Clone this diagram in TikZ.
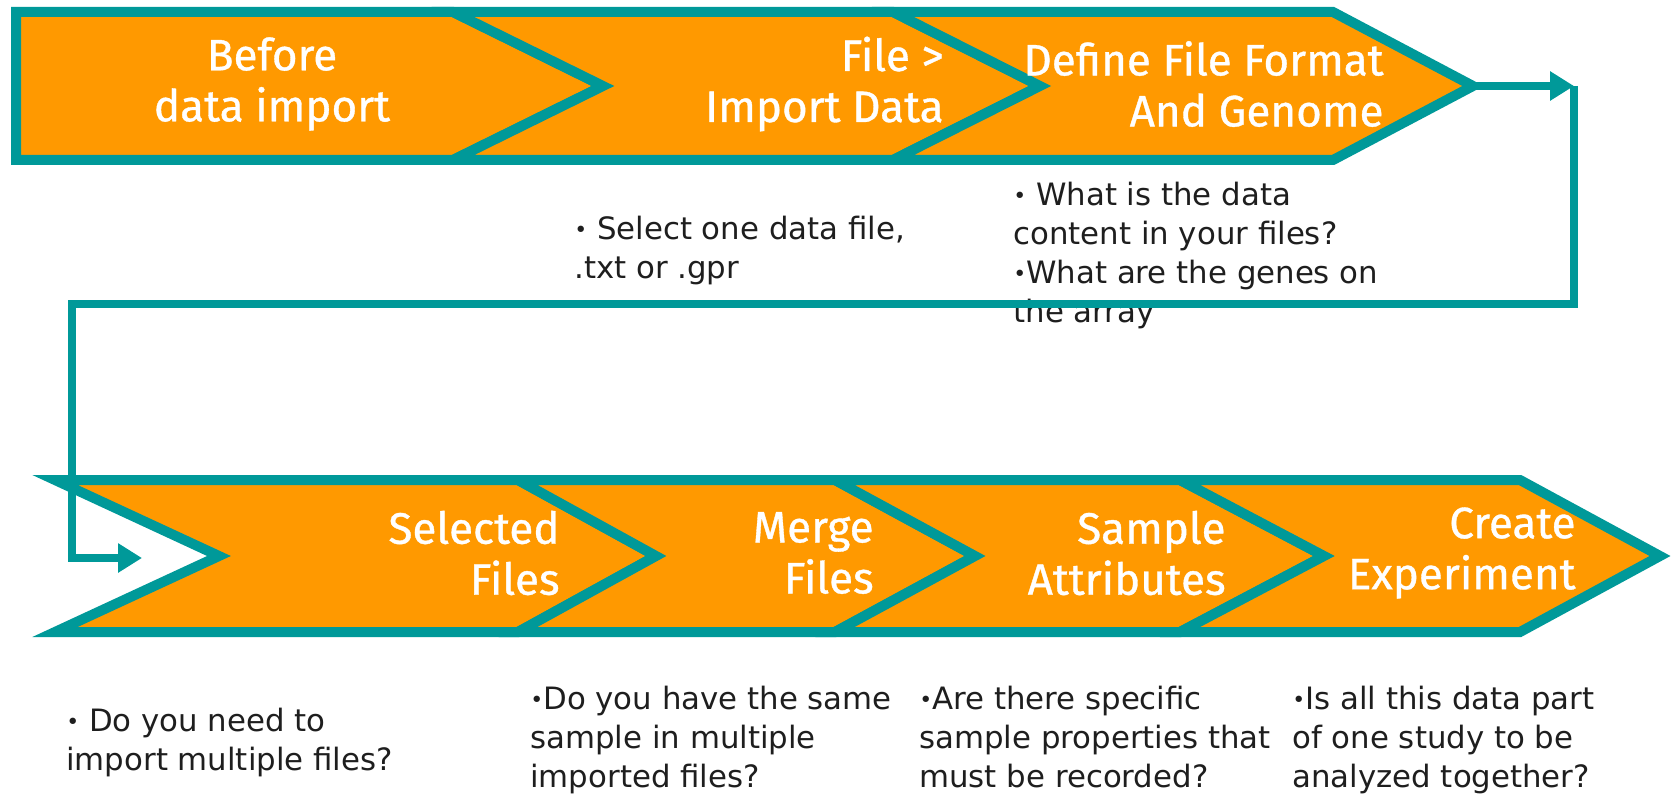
\documentclass[tikz,border=0pt]{standalone}
\usepackage{fontspec}
\setmainfont{Fira Sans}
\newfontfamily\stepfont{Fira Sans}[FakeBold=0.8]
\newfontfamily\notefont{DejaVu Sans}
\usetikzlibrary{positioning, arrows.meta}

\definecolor{chevorange}{HTML}{FF9900}
\definecolor{chevteal}{HTML}{009999}
\definecolor{notegray}{HTML}{1E1E1E}
\newcommand\notebullet{\raisebox{0.15ex}{\fontsize{11}{11}\selectfont\textbullet}}

\tikzset{
  chev/.style={fill=chevorange, draw=chevteal, line width=5pt},
  steptext/.style={text=white, font=\stepfont\fontsize{22}{25.5}\selectfont, align=right, inner sep=0pt, anchor=east},
  note/.style={text=notegray, font=\notefont\fontsize{15.4}{19.5}\selectfont, align=left, inner sep=0pt, anchor=north west},
  conn/.style={draw=chevteal, line width=4pt},
  flowarrow/.style={-{Triangle[length=12pt, width=14pt]}}
}

\begin{document}
\begin{tikzpicture}[x=0.5pt, y=-0.5pt]
\useasboundingbox (0,0) rectangle (1672,797);

% first row of steps
\draw[chev] (16,12) -- (453,12) -- (603,86) -- (453,160) -- (16,160) -- cycle;
\draw[chev] (453,12) -- (893,12) -- (1040,86) -- (893,160) -- (453,160) -- (603,86) -- cycle;
\draw[chev] (893,12) -- (1333,12) -- (1473,86) -- (1333,160) -- (893,160) -- (1040,86) -- cycle;
\coordinate (formattip) at (1473,86);

% second row of steps
\draw[chev] (55,480) -- (518,480) -- (656,556) -- (518,632) -- (55,632) -- (219,556) -- cycle;
\draw[chev] (518,480) -- (835,480) -- (975,556) -- (835,632) -- (518,632) -- (656,556) -- cycle;
\draw[chev] (835,480) -- (1180,480) -- (1324,556) -- (1180,632) -- (835,632) -- (975,556) -- cycle;
\draw[chev] (1180,480) -- (1520,480) -- (1660,556) -- (1520,632) -- (1180,632) -- (1324,556) -- cycle;

% step labels
\node[steptext, anchor=center, align=center] (before) at (272,84) {Before\\data import};
\node[steptext] (import) at (944,84) {File >\\Import Data};
\node[steptext] (format) at (1384,84) {Define File Format\\And Genome};
\node[steptext] (selected) at (560,553) {Selected\\Files};
\node[steptext] (merge) at (874,553) {Merge\\Files};
\node[steptext] (attributes) at (1226,553) {Sample\\Attributes};
\node[steptext] (experiment) at (1576,553) {Create\\Experiment};

% questions under the steps
\node[note] (selectnote) at (574,216) {\notebullet\ Select one data file,\\.txt or .gpr};
\node[note] (formatnote) at (1013,182) {\notebullet\ What is the data\\content in your files?\\\notebullet What are the genes on\\the array};
\node[note] (selectednote) at (66,708) {\notebullet\ Do you need to\\import multiple files?};
\node[note] (mergenote) at (530,686) {\notebullet Do you have the same\\sample in multiple\\imported files?};
\node[note] (attributesnote) at (919,686) {\notebullet Are there specific\\sample properties that\\must be recorded?};
\node[note] (experimentnote) at (1292,686) {\notebullet Is all this data part\\of one study to be\\analyzed together?};

% loop back to the second row
\coordinate (turnne) at (1574,86);
\coordinate (turnse) at (1574,304);
\coordinate (turnsw) at (72,304);
\coordinate (entry) at (142,558);
\draw[conn, flowarrow] (formattip) -- (turnne);
\draw[conn, flowarrow] (turnne) -- (turnse) -- (turnsw) |- (entry);
\end{tikzpicture}
\end{document}
